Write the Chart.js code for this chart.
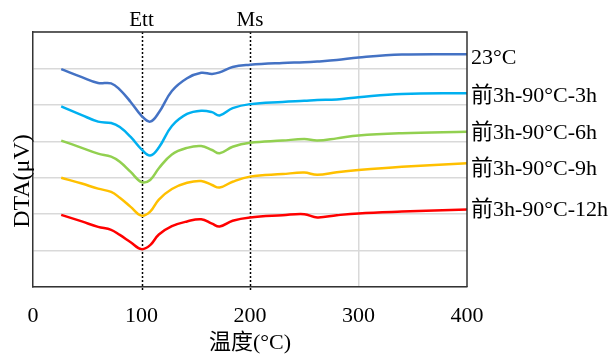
<!DOCTYPE html>
<html>
<head>
<meta charset="utf-8">
<script src="https://cdn.jsdelivr.net/npm/chart.js@4"></script>
<style>
  html, body { margin: 0; padding: 0; background: #fff; }
</style>
</head>
<body>
<canvas id="myChart" width="609" height="354"></canvas>
<script>
// temperature samples (°C) shared by all curves
var temps  = [26, 45, 60, 72, 80, 90, 100, 108, 116, 128, 142, 155, 165, 172, 184, 200, 230, 250, 262, 280, 300, 340, 400];
// DTA traces (offset, arbitrary units)
var dta23  = [5.98, 5.76, 5.60, 5.59, 5.42, 5.08, 4.70, 4.54, 4.79, 5.38, 5.73, 5.88, 5.85, 5.89, 6.04, 6.10, 6.15, 6.17, 6.19, 6.23, 6.30, 6.38, 6.39];
var dta3h  = [4.96, 4.72, 4.54, 4.50, 4.39, 4.12, 3.78, 3.61, 3.83, 4.42, 4.75, 4.84, 4.80, 4.71, 4.91, 5.02, 5.08, 5.11, 5.13, 5.15, 5.21, 5.30, 5.32];
var dta6h  = [4.02, 3.82, 3.66, 3.58, 3.44, 3.16, 2.88, 2.94, 3.26, 3.64, 3.82, 3.87, 3.76, 3.67, 3.85, 3.96, 4.02, 4.06, 4.02, 4.08, 4.16, 4.22, 4.26];
var dta9h  = [3.00, 2.84, 2.70, 2.61, 2.45, 2.20, 1.96, 2.07, 2.40, 2.69, 2.86, 2.91, 2.80, 2.73, 2.89, 3.03, 3.10, 3.14, 3.08, 3.15, 3.21, 3.30, 3.40];
var dta12h = [1.98, 1.80, 1.65, 1.57, 1.43, 1.23, 1.04, 1.15, 1.44, 1.67, 1.80, 1.86, 1.74, 1.66, 1.82, 1.91, 1.97, 2.00, 1.91, 1.97, 2.02, 2.07, 2.13];
var seriesNames = ['23°C', '前3h-90°C-3h', '前3h-90°C-6h', '前3h-90°C-9h', '前3h-90°C-12h'];
var markerTemps = [100, 200];
var markerNames = ['Ett', 'Ms'];

var serif = "'Liberation Serif', 'Times New Roman', 'Noto Sans CJK SC', serif";
var colors = ['#4472C4', '#00B0F0', '#92D050', '#FFC000', '#FF0000'];
var labelDy = [4, 3, 1, 6, 1];

Chart.defaults.font.family = serif;
Chart.defaults.color = '#000';

function toPoints(vals) {
    return temps.map(function (t, i) { return { x: t, y: vals[i] }; });
}

var overlay = {
    id: 'overlay',
    beforeDatasetsDraw: function (chart) {
        var c = chart.ctx, a = chart.chartArea, xs = chart.scales.x;
        c.save();
        c.setLineDash([2, 2]);
        c.strokeStyle = '#000';
        c.lineWidth = 1.5;
        markerTemps.forEach(function (t) {
            var px = Math.round(xs.getPixelForValue(t)) + 0.5;
            c.beginPath();
            c.moveTo(px, a.top);
            c.lineTo(px, a.bottom + 4);
            c.stroke();
        });
        c.restore();
    },
    afterDraw: function (chart) {
        var c = chart.ctx, a = chart.chartArea, xs = chart.scales.x;
        c.save();
        // top and right frame
        c.strokeStyle = '#333';
        c.lineWidth = 1.5;
        c.beginPath();
        c.moveTo(a.left, a.top);
        c.lineTo(a.right, a.top);
        c.lineTo(a.right, a.bottom);
        c.stroke();

        c.fillStyle = '#000';
        // marker names
        c.font = '21px ' + serif;
        c.textAlign = 'center';
        c.textBaseline = 'alphabetic';
        markerTemps.forEach(function (t, i) {
            c.fillText(markerNames[i], xs.getPixelForValue(t), a.top - 6);
        });

        // series names at line ends
        c.font = '22px ' + serif;
        c.textAlign = 'left';
        c.textBaseline = 'middle';
        chart.data.datasets.forEach(function (ds, i) {
            var pts = chart.getDatasetMeta(i).data;
            var last = pts[pts.length - 1];
            c.fillText(ds.label, a.right + 4, last.y + labelDy[i]);
        });

        // axis titles
        c.textAlign = 'center';
        c.fillText('温度(°C)', (a.left + a.right) / 2, 343);
        c.translate(23, 181);
        c.rotate(-Math.PI / 2);
        c.font = '24px ' + serif;
        c.fillText('DTA(μV)', 0, 0);
        c.restore();
    }
};

var series = [dta23, dta3h, dta6h, dta9h, dta12h];

var myChart = new Chart(document.getElementById('myChart'), {
    type: 'line',
    data: {
        datasets: series.map(function (vals, i) {
            return {
                label: seriesNames[i],
                data: toPoints(vals),
                borderColor: colors[i],
                backgroundColor: colors[i],
                borderWidth: 2.5,
                pointRadius: 0,
                tension: 0.4,
                fill: false
            };
        })
    },
    options: {
        responsive: false,
        animation: false,
        layout: { padding: { left: 0, top: 32, right: 142, bottom: 0 } },
        plugins: {
            legend: { display: false },
            tooltip: { enabled: false }
        },
        scales: {
            x: {
                type: 'linear',
                min: 0,
                max: 400,
                afterFit: function (s) { s.height = 67; },
                ticks: { stepSize: 100, padding: 16, font: { size: 22 }, color: '#000' },
                grid: {
                    drawTicks: false,
                    color: function (ctx) { return ctx.tick && ctx.tick.value === 300 ? '#d9d9d9' : 'rgba(0,0,0,0)'; },
                    lineWidth: 1.5
                },
                border: { display: true, color: '#333', width: 1.5 }
            },
            y: {
                min: 0,
                max: 7,
                afterFit: function (s) { s.width = 33; },
                ticks: { display: false, stepSize: 1 },
                grid: { drawTicks: false, color: '#d9d9d9', lineWidth: 1.5 },
                border: { display: true, color: '#333', width: 1.5 }
            }
        }
    },
    plugins: [overlay]
});
</script>
</body>
</html>
